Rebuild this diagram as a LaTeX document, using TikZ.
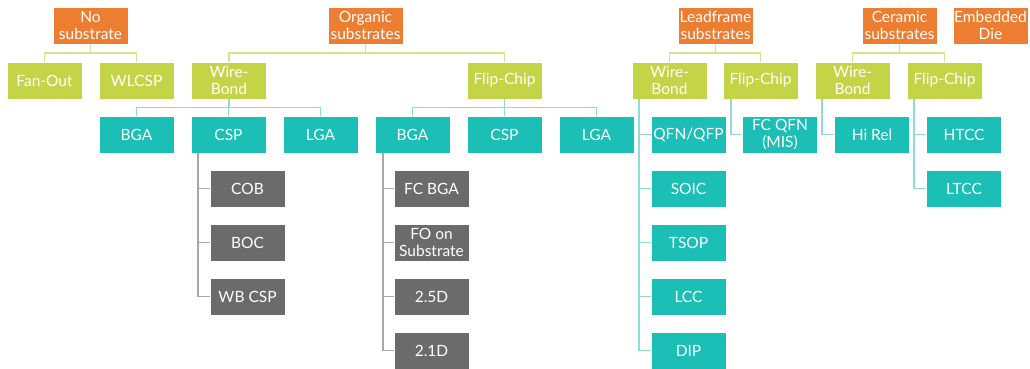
\documentclass[tikz,border=0pt]{standalone}
\usepackage{fontspec}
\setmainfont{Lato}
\begin{document}
\begin{tikzpicture}[x=1pt,y=-1pt,
  box/.style={rectangle, draw=white, line width=0.6pt, text=white, align=center,
    minimum width=75pt, minimum height=37pt, inner sep=1pt,
    font=\fontsize{15.5}{17.5}\selectfont},
  obox/.style={box, fill=orgC},
  lbox/.style={box, fill=limeC},
  tbox/.style={box, fill=tealC},
  gbox/.style={box, fill=grayC},
  gline/.style={draw=limeL, line width=1.6pt},
  tline/.style={draw=tealL, line width=1.6pt},
  kline/.style={draw=grayL, line width=1.6pt}]
\definecolor{orgC}{HTML}{ED7D31}
\definecolor{limeC}{HTML}{C3D546}
\definecolor{tealC}{HTML}{1CBFB5}
\definecolor{grayC}{HTML}{6B6B6B}
\definecolor{limeL}{HTML}{D6E48E}
\definecolor{tealL}{HTML}{8FDCD6}
\definecolor{grayL}{HTML}{A8A8A8}
\useasboundingbox (0,0) rectangle (1030,369);
% row 1
\node[obox] (nosub) at (90.5,25.5) {No\\substrate};
\node[obox] (organic) at (365.5,25.5) {Organic\\substrates};
\node[obox] (leadf) at (715.5,25.5) {Leadframe\\substrates};
\node[obox] (ceram) at (899.5,25.5) {Ceramic\\substrates};
\node[obox] (embed) at (990.5,25.5) {Embedded\\Die};
% row 2
\node[lbox] (fanout) at (44.5,80.5) {Fan-Out};
\node[lbox] (wlcsp) at (136.5,80.5) {WLCSP};
\node[lbox] (wbo) at (229,80.5) {Wire-\\Bond};
\node[lbox] (fco) at (504.5,80.5) {Flip-Chip};
\node[lbox] (wbl) at (669.5,80.5) {Wire-\\Bond};
\node[lbox] (fcl) at (760.5,80.5) {Flip-Chip};
\node[lbox] (wbc) at (852.5,80.5) {Wire-\\Bond};
\node[lbox] (fcc) at (944.5,80.5) {Flip-Chip};
% row 3
\node[tbox] (bga1) at (136.5,134.5) {BGA};
\node[tbox] (csp1) at (228.5,134.5) {CSP};
\node[tbox] (lga1) at (320.5,134.5) {LGA};
\node[tbox] (bga2) at (412.5,134.5) {BGA};
\node[tbox] (csp2) at (504.5,134.5) {CSP};
\node[tbox] (lga2) at (596.5,134.5) {LGA};
\node[tbox] (qfn) at (688.5,134.5) {QFN/QFP};
\node[tbox] (fcqfn) at (780,134.5) {FC QFN\\(MIS)};
\node[tbox] (hirel) at (872,134.5) {Hi Rel};
\node[tbox] (htcc) at (964,134.5) {HTCC};
% lists
\node[gbox] (cob) at (247.5,188.5) {COB};
\node[gbox] (boc) at (247.5,242.5) {BOC};
\node[gbox] (wbcsp) at (247.5,296.5) {WB CSP};
\node[gbox] (fcbga) at (431.5,188.5) {FC BGA};
\node[gbox] (fosub) at (431.5,242.5) {FO on\\Substrate};
\node[gbox] (d25) at (431.5,296.5) {2.5D};
\node[gbox] (d21) at (431.5,350.5) {2.1D};
\node[tbox] (soic) at (688.5,188.5) {SOIC};
\node[tbox] (tsop) at (688.5,242.5) {TSOP};
\node[tbox] (lcc) at (688.5,296.5) {LCC};
\node[tbox] (dip) at (688.5,350.5) {DIP};
\node[tbox] (ltcc) at (964,188.5) {LTCC};
% connectors row1 -> row2
\draw[gline] (nosub.south) -- ++(0,9) -| (fanout.north);
\draw[gline] (nosub.south) -- ++(0,9) -| (wlcsp.north);
\draw[gline] (organic.south) -- ++(0,9) -| (wbo.north);
\draw[gline] (organic.south) -- ++(0,9) -| (fco.north);
\draw[gline] (leadf.south) -- ++(0,9) -| (wbl.north);
\draw[gline] (leadf.south) -- ++(0,9) -| (fcl.north);
\draw[gline] (ceram.south) -- ++(0,9) -| (wbc.north);
\draw[gline] (ceram.south) -- ++(0,9) -| (fcc.north);
% row2 -> row3
\draw[tline] (wbo.south) -- ++(0,8) -| (bga1.north);
\draw[tline] (wbo.south) -- ++(0,8) -| (csp1.north);
\draw[tline] (wbo.south) -- ++(0,8) -| (lga1.north);
\draw[tline] (fco.south) -- ++(0,8) -| (bga2.north);
\draw[tline] (fco.south) -- ++(0,8) -| (csp2.north);
\draw[tline] (fco.south) -- ++(0,8) -| (lga2.north);
% vertical lists
\foreach \c in {cob,boc,wbcsp}
  \draw[kline] ([xshift=7pt]csp1.south west) |- (\c.west);
\foreach \c in {fcbga,fosub,d25,d21}
  \draw[kline] ([xshift=8pt]bga2.south west) |- (\c.west);
\foreach \c in {qfn,soic,tsop,lcc,dip}
  \draw[tline] ([xshift=7pt]wbl.south west) |- (\c.west);
\draw[tline] ([xshift=8pt]fcl.south west) |- (fcqfn.west);
\draw[tline] ([xshift=7pt]wbc.south west) |- (hirel.west);
\foreach \c in {htcc,ltcc}
  \draw[tline] ([xshift=7pt]fcc.south west) |- (\c.west);
\end{tikzpicture}
\end{document}
